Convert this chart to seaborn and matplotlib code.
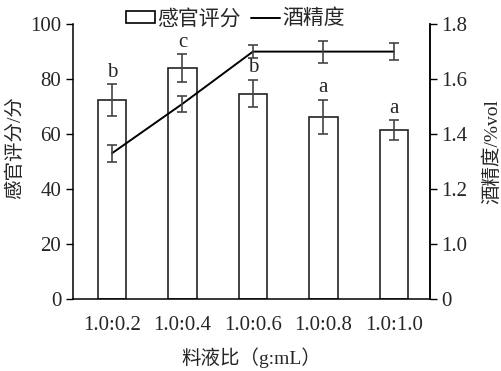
import numpy as np
import matplotlib
matplotlib.use('Agg')
import matplotlib.pyplot as plt
import seaborn as sns
from matplotlib.patches import Patch
from matplotlib.lines import Line2D

# data
ratios = ['1.0:0.2', '1.0:0.4', '1.0:0.6', '1.0:0.8', '1.0:1.0']
score = [72.3, 84.0, 74.7, 66.2, 61.5]
score_sd = [5.8, 5.0, 5.0, 6.2, 3.5]
letters = ['b', 'c', 'b', 'a', 'a']
alcohol = [1.33, 1.51, 1.70, 1.70, 1.70]
alcohol_sd = [0.03, 0.03, 0.025, 0.04, 0.03]
alc_ticks = [0.8, 1.0, 1.2, 1.4, 1.6, 1.8]
alc_ticklabels = ['0', '1.0', '1.2', '1.4', '1.6', '1.8']


def main():
    sns.set_style('ticks')
    plt.rcParams['font.family'] = ['Liberation Serif', 'Noto Sans CJK SC']
    plt.rcParams['axes.unicode_minus'] = False

    fig = plt.figure(figsize=(5.01, 3.71), dpi=100)
    ax = fig.add_axes([0.146, 0.194, 0.712, 0.741])

    sns.barplot(x=ratios, y=score, ax=ax, color='white', edgecolor='#222222',
                linewidth=1.2, width=0.4, errorbar=None, saturation=1)
    pos = np.arange(len(ratios))
    ax.errorbar(pos, score, yerr=score_sd, fmt='none', ecolor='#444444',
                elinewidth=1.2, capsize=3.5, capthick=1.2)
    for i, (v, e, t) in enumerate(zip(score, score_sd, letters)):
        ax.text(i, v + e + 1.0, t, ha='center', va='bottom', fontsize=15)

    ax.set_ylim(0, 100)
    ax.set_yticks(range(0, 101, 20))
    ax.set_xlim(-0.55, 4.51)
    ax.set_ylabel('感官评分/分', fontsize=14)
    ax.yaxis.set_label_coords(-0.137, 0.55)
    ax.set_xlabel('料液比（g:mL）', fontsize=14, labelpad=9)
    ax.tick_params(axis='y', direction='out', length=5, width=1, labelsize=15, color='black')
    ax.tick_params(axis='x', length=0, labelsize=15, pad=12)
    for s in ['left', 'bottom', 'right']:
        ax.spines[s].set_color('black')
        ax.spines[s].set_linewidth(1.1)
    ax.spines['top'].set_visible(False)

    ax2 = ax.twinx()
    sns.lineplot(x=pos, y=alcohol, ax=ax2, color='black', linewidth=1.4)
    ax2.errorbar(pos, alcohol, yerr=alcohol_sd, fmt='none', ecolor='#444444',
                 elinewidth=1.2, capsize=3.5, capthick=1.2)
    ax2.set_ylim(0.8, 1.8)
    ax2.set_yticks(alc_ticks)
    ax2.set_yticklabels(alc_ticklabels)
    ax2.set_ylabel('酒精度/%vol', fontsize=14)
    ax2.yaxis.set_label_coords(1.148, 0.535)
    ax2.tick_params(axis='y', direction='out', length=5, width=1, labelsize=15, color='black')
    for s in ['left', 'top', 'bottom']:
        ax2.spines[s].set_visible(False)
    ax2.spines['right'].set_color('black')
    ax2.spines['right'].set_linewidth(1.1)
    ax2.set_xlim(-0.55, 4.51)

    handles = [Patch(facecolor='white', edgecolor='black', linewidth=1.2),
               Line2D([0], [0], color='black', linewidth=1.4)]
    fig.legend(handles, ['感官评分', '酒精度'], loc='upper center',
               bbox_to_anchor=(0.47, 1.025), ncol=2, frameon=False, fontsize=15,
               handlelength=1.4, handleheight=0.5, handletextpad=0.1, columnspacing=0.5)

    fig.savefig('out.png', dpi=100)
    plt.close(fig)


if __name__ == '__main__':
    main()
